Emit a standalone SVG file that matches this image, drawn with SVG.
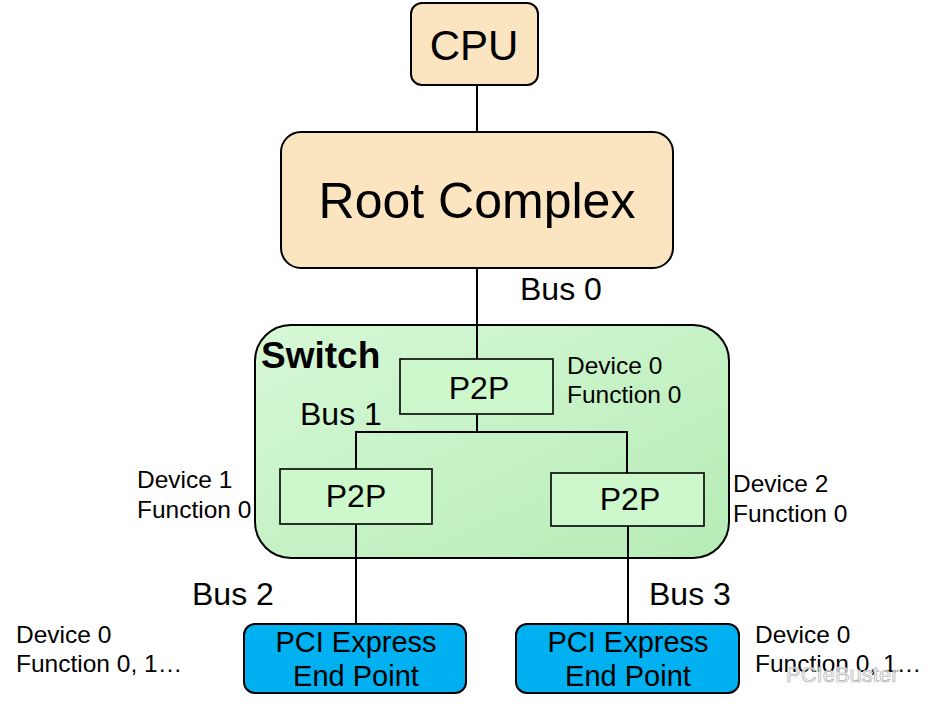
<svg xmlns="http://www.w3.org/2000/svg" width="940" height="712" viewBox="0 0 940 712">
<defs>
<linearGradient id="sw" x1="0" y1="0" x2="1" y2="1">
<stop offset="0" stop-color="#d6f8d6"/>
<stop offset="1" stop-color="#b6ecb6"/>
</linearGradient>
<style>
text{font-family:"Liberation Sans",Arial,sans-serif;fill:#000}
.beige{fill:#fae5c0;stroke:#000;stroke-width:2}
.p2p{fill:#ccf8cc;stroke:#000;stroke-width:1.6}
.ep{fill:#00b0f0;stroke:#000;stroke-width:2}
.ln{stroke:#000;stroke-width:2;fill:none}
.lbl{font-size:24.5px}
.bus{font-size:32px}
.p{font-size:32px;text-anchor:middle}
.e{font-size:29px;text-anchor:middle}
.c{text-anchor:middle}
</style>
</defs>
<rect width="940" height="712" fill="#fff"/>
<g id="switch">
<rect x="255" y="325" width="474" height="233" rx="36" fill="url(#sw)" stroke="#000" stroke-width="2"/>
<text x="261" y="368" font-size="37" font-weight="bold">Switch</text>
</g>
<g id="connectors">
<path class="ln" d="M477 85V132"/>
<path class="ln" d="M477 268V359"/>
<path class="ln" d="M477 414V432M356 469V432H627V473"/>
<path class="ln" d="M356 524V624"/>
<path class="ln" d="M628 526V624"/>
</g>
<g id="cpu">
<rect class="beige" x="411" y="3" width="127" height="82" rx="11"/>
<text class="c" x="474" y="60" font-size="42">CPU</text>
</g>
<g id="root-complex">
<rect class="beige" x="281" y="132" width="392" height="136" rx="20"/>
<text class="c" x="477" y="218" font-size="50">Root Complex</text>
</g>
<text class="bus" x="520" y="300">Bus 0</text>
<g id="p2p-up">
<rect class="p2p" x="400" y="359" width="153" height="55"/>
<text class="p" x="479" y="399">P2P</text>
</g>
<text class="lbl" x="567" y="374">Device 0</text>
<text class="lbl" x="567" y="403">Function 0</text>
<text class="bus" x="300" y="425">Bus 1</text>
<g id="p2p-left">
<rect class="p2p" x="280" y="469" width="152" height="55"/>
<text class="p" x="356" y="507">P2P</text>
</g>
<g id="p2p-right">
<rect class="p2p" x="551" y="473" width="153" height="53"/>
<text class="p" x="630" y="510">P2P</text>
</g>
<text class="lbl" x="137" y="488">Device 1</text>
<text class="lbl" x="137" y="518">Function 0</text>
<text class="lbl" x="733" y="492">Device 2</text>
<text class="lbl" x="733" y="522">Function 0</text>
<text class="bus" x="192" y="605">Bus 2</text>
<text class="bus" x="649" y="605">Bus 3</text>
<g id="endpoint-left">
<rect class="ep" x="244" y="624" width="222" height="69" rx="11"/>
<text class="e" x="356" y="652">PCI Express</text>
<text class="e" x="356" y="686">End Point</text>
</g>
<g id="endpoint-right">
<rect class="ep" x="516" y="624" width="223" height="69" rx="11"/>
<text class="e" x="628" y="652">PCI Express</text>
<text class="e" x="628" y="686">End Point</text>
</g>
<text class="lbl" x="16" y="643">Device 0</text>
<text class="lbl" x="16" y="672">Function 0, 1…</text>
<text class="lbl" x="755" y="643">Device 0</text>
<text class="lbl" x="755" y="672">Function 0, 1…</text>
<text x="786" y="682" font-size="22" style="fill:#ffffff;fill-opacity:0.85;stroke:#aaa;stroke-width:0.7">PCIeBuster</text>
</svg>
